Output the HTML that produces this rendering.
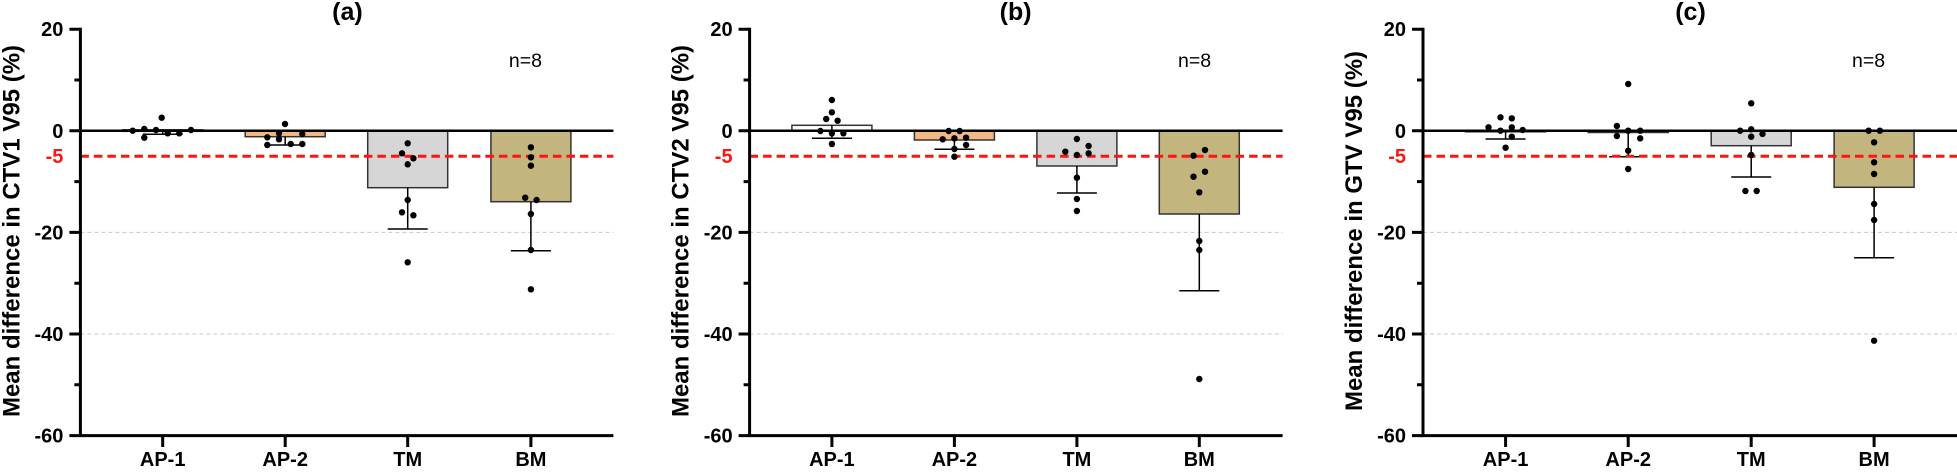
<!DOCTYPE html>
<html><head><meta charset="utf-8"><style>
html,body{margin:0;padding:0;background:#fff;}
svg{display:block;}
text{font-family:"Liberation Sans",Arial,sans-serif;}
.tl{font-size:20px;font-weight:bold;text-anchor:end;fill:#000;}
.xl{font-size:20px;font-weight:bold;text-anchor:middle;fill:#000;}
.tt{font-size:25px;font-weight:bold;text-anchor:middle;fill:#000;}
.nn{font-size:19.5px;text-anchor:middle;fill:#000;}
.yl{font-size:24px;font-weight:bold;text-anchor:middle;fill:#000;}
.ax{stroke:#000;stroke-width:3;fill:none;}
.grid{stroke:#c8c8c8;stroke-width:1;stroke-dasharray:4 3;}
.red{stroke:#ff1414;stroke-width:3;stroke-dasharray:8.5 5;}
.bar{stroke:#333;stroke-width:1.5;}
.eb{stroke:#000;stroke-width:1.5;fill:none;}
</style></head><body>
<svg width="1957" height="472" viewBox="0 0 1957 472" xmlns="http://www.w3.org/2000/svg">

<!-- ================= PANEL A ================= -->
<g transform="translate(80.4,0)">
  <line class="grid" x1="0" y1="232.4" x2="533" y2="232.4"/>
  <line class="grid" x1="0" y1="334" x2="533" y2="334"/>
  <!-- bars -->
  <rect class="bar" x="42.3" y="129.8" width="80" height="1.5" fill="#fff"/>
  <rect class="bar" x="164.8" y="130.8" width="80" height="5.9" fill="#F4B884"/>
  <rect class="bar" x="287.3" y="130.8" width="80" height="56.9" fill="#D6D6D6"/>
  <rect class="bar" x="410.5" y="130.8" width="80" height="70.9" fill="#C2B57E"/>
  <!-- error bars -->
  <path class="eb" d="M82.3 130.8V134.3M62.3 134.3H102.3"/>
  <path class="eb" d="M204.8 136.7V145M184.8 145H224.8"/>
  <path class="eb" d="M327.3 187.7V229M307.3 229H347.3"/>
  <path class="eb" d="M450.5 201.7V250.7M430.5 250.7H470.5"/>
  <line class="red" x1="0" y1="156.2" x2="533" y2="156.2"/>
  <line x1="0" y1="130.8" x2="533" y2="130.8" stroke="#000" stroke-width="2.5"/>
  <!-- dots -->
  <g fill="#000">
    <circle cx="52.3" cy="130.7" r="3.2"/><circle cx="63.9" cy="129" r="3.2"/><circle cx="63.9" cy="137.7" r="3.2"/><circle cx="75.6" cy="130" r="3.2"/>
    <circle cx="81.3" cy="117.7" r="3.2"/><circle cx="87.3" cy="133.3" r="3.2"/><circle cx="98.9" cy="133.3" r="3.2"/><circle cx="110.6" cy="130" r="3.2"/>
    <circle cx="204.6" cy="124" r="3.2"/><circle cx="198.6" cy="133.3" r="3.2"/><circle cx="221.9" cy="134" r="3.2"/><circle cx="186.9" cy="137.3" r="3.2"/>
    <circle cx="198.6" cy="139.3" r="3.2"/><circle cx="186.9" cy="145" r="3.2"/><circle cx="210.3" cy="144" r="3.2"/><circle cx="221.9" cy="144" r="3.2"/>
    <circle cx="327.3" cy="143.3" r="3.2"/><circle cx="321.6" cy="153.3" r="3.2"/><circle cx="333" cy="158.3" r="3.2"/><circle cx="327.3" cy="164.3" r="3.2"/>
    <circle cx="327.3" cy="200" r="3.2"/><circle cx="321.6" cy="212.3" r="3.2"/><circle cx="333" cy="215.3" r="3.2"/><circle cx="327.3" cy="262.3" r="3.2"/>
    <circle cx="450.5" cy="147.3" r="3.2"/><circle cx="450.5" cy="157.3" r="3.2"/><circle cx="450.5" cy="165.7" r="3.2"/><circle cx="444.8" cy="197.7" r="3.2"/>
    <circle cx="456.2" cy="200" r="3.2"/><circle cx="450.5" cy="214" r="3.2"/><circle cx="450.5" cy="250" r="3.2"/><circle cx="450.5" cy="289.3" r="3.2"/>
  </g>
  <!-- axes -->
  <line class="ax" x1="0" y1="27.8" x2="0" y2="437"/>
  <line class="ax" x1="-1.5" y1="435.6" x2="533" y2="435.6"/>
  <path class="ax" d="M-11 29.2H0M-6 80H0M-11 130.8H0M-6 181.6H0M-11 232.4H0M-6 283.2H0M-11 334H0M-6 384.8H0M-11 435.6H0"/>
  <path class="ax" d="M82.3 435.6V447M204.8 435.6V447M327.3 435.6V447M450.5 435.6V447"/>
  <text class="tl" x="-17" y="36.2">20</text>
  <text class="tl" x="-17" y="137.8">0</text>
  <text class="tl" x="-17" y="163.2" fill="#ff1414" style="fill:#ff1414">-5</text>
  <text class="tl" x="-17" y="239.4">-20</text>
  <text class="tl" x="-17" y="341">-40</text>
  <text class="tl" x="-17" y="442.6">-60</text>
  <text class="xl" x="82.3" y="466">AP-1</text>
  <text class="xl" x="204.8" y="466">AP-2</text>
  <text class="xl" x="327.3" y="466">TM</text>
  <text class="xl" x="450.5" y="466">BM</text>
  <text class="tt" x="267" y="20">(a)</text>
  <text class="nn" x="445" y="67">n=8</text>
  <text class="yl" transform="translate(-61,231) rotate(-90)" x="0" y="0">Mean difference in CTV1 V95 (%)</text>
</g>

<!-- ================= PANEL B ================= -->
<g transform="translate(749.6,0)">
  <line class="grid" x1="0" y1="232.4" x2="533" y2="232.4"/>
  <line class="grid" x1="0" y1="334" x2="533" y2="334"/>
  <rect class="bar" x="42.3" y="125.3" width="80" height="5.5" fill="#fff"/>
  <rect class="bar" x="164.8" y="130.8" width="80" height="9.2" fill="#F4B884"/>
  <rect class="bar" x="287.3" y="130.8" width="80" height="35.2" fill="#D6D6D6"/>
  <rect class="bar" x="409.7" y="130.8" width="80" height="83.2" fill="#C2B57E"/>
  <path class="eb" d="M82.3 125.3V138.3M62.3 138.3H102.3"/>
  <path class="eb" d="M204.8 140V149.3M184.8 149.3H224.8"/>
  <path class="eb" d="M327.3 166V193M307.3 193H347.3"/>
  <path class="eb" d="M449.7 214V290.7M429.7 290.7H469.7"/>
  <line class="red" x1="0" y1="156.2" x2="533" y2="156.2"/>
  <line x1="0" y1="130.8" x2="533" y2="130.8" stroke="#000" stroke-width="2.5"/>
  <g fill="#000">
    <circle cx="82.3" cy="100" r="3.2"/><circle cx="82.3" cy="112.3" r="3.2"/><circle cx="76.6" cy="119" r="3.2"/><circle cx="88" cy="120.7" r="3.2"/>
    <circle cx="70.8" cy="131" r="3.2"/><circle cx="82.3" cy="133.3" r="3.2"/><circle cx="93.8" cy="133.3" r="3.2"/><circle cx="82.3" cy="144" r="3.2"/>
    <circle cx="199.1" cy="131" r="3.2"/><circle cx="210.1" cy="131" r="3.2"/><circle cx="193.1" cy="139.3" r="3.2"/><circle cx="204.8" cy="138.3" r="3.2"/>
    <circle cx="216.5" cy="137.7" r="3.2"/><circle cx="216.5" cy="145" r="3.2"/><circle cx="204.8" cy="149" r="3.2"/><circle cx="204.8" cy="156.7" r="3.2"/>
    <circle cx="327.3" cy="139" r="3.2"/><circle cx="315.7" cy="151.7" r="3.2"/><circle cx="327.3" cy="155" r="3.2"/><circle cx="339" cy="146" r="3.2"/>
    <circle cx="339" cy="153.3" r="3.2"/><circle cx="327.3" cy="177.7" r="3.2"/><circle cx="327.3" cy="199" r="3.2"/><circle cx="327.3" cy="211" r="3.2"/>
    <circle cx="455.4" cy="150" r="3.2"/><circle cx="443.9" cy="155.7" r="3.2"/><circle cx="455.4" cy="171.7" r="3.2"/><circle cx="443.9" cy="176.7" r="3.2"/>
    <circle cx="449.7" cy="192.3" r="3.2"/><circle cx="449.7" cy="241" r="3.2"/><circle cx="449.7" cy="250" r="3.2"/><circle cx="449.7" cy="379" r="3.2"/>
  </g>
  <line class="ax" x1="0" y1="27.8" x2="0" y2="437"/>
  <line class="ax" x1="-1.5" y1="435.6" x2="533" y2="435.6"/>
  <path class="ax" d="M-11 29.2H0M-6 80H0M-11 130.8H0M-6 181.6H0M-11 232.4H0M-6 283.2H0M-11 334H0M-6 384.8H0M-11 435.6H0"/>
  <path class="ax" d="M82.3 435.6V447M204.8 435.6V447M327.3 435.6V447M449.7 435.6V447"/>
  <text class="tl" x="-17" y="36.2">20</text>
  <text class="tl" x="-17" y="137.8">0</text>
  <text class="tl" x="-17" y="163.2" style="fill:#ff1414">-5</text>
  <text class="tl" x="-17" y="239.4">-20</text>
  <text class="tl" x="-17" y="341">-40</text>
  <text class="tl" x="-17" y="442.6">-60</text>
  <text class="xl" x="82.3" y="466">AP-1</text>
  <text class="xl" x="204.8" y="466">AP-2</text>
  <text class="xl" x="327.3" y="466">TM</text>
  <text class="xl" x="449.7" y="466">BM</text>
  <text class="tt" x="266" y="20">(b)</text>
  <text class="nn" x="445" y="67">n=8</text>
  <text class="yl" transform="translate(-61,231) rotate(-90)" x="0" y="0">Mean difference in CTV2 V95 (%)</text>
</g>

<!-- ================= PANEL C ================= -->
<g transform="translate(1423,0)">
  <line class="grid" x1="0" y1="232.4" x2="534" y2="232.4"/>
  <line class="grid" x1="0" y1="334" x2="534" y2="334"/>
  <rect class="bar" x="42.6" y="130.8" width="80" height="1" fill="#fff"/>
  <rect class="bar" x="165.2" y="130.8" width="80" height="1.7" fill="#F4B884"/>
  <rect class="bar" x="288.2" y="130.8" width="80" height="14.9" fill="#D6D6D6"/>
  <rect class="bar" x="411.1" y="130.8" width="80" height="56.5" fill="#C2B57E"/>
  <path class="eb" d="M82.6 131.8V139M62.6 139H102.6"/>
  <path class="eb" d="M205.2 132.5V156.7M186.2 156.7H224.2"/>
  <path class="eb" d="M328.2 145.7V177M308.2 177H348.2"/>
  <path class="eb" d="M451.1 187.3V257.7M431.1 257.7H471.1"/>
  <line class="red" x1="0" y1="156.2" x2="534" y2="156.2"/>
  <line x1="0" y1="130.8" x2="534" y2="130.8" stroke="#000" stroke-width="2.5"/>
  <g fill="#000">
    <circle cx="65.5" cy="127.3" r="3.2"/><circle cx="77.5" cy="117.3" r="3.2"/><circle cx="88.8" cy="118.3" r="3.2"/><circle cx="77.5" cy="130.7" r="3.2"/>
    <circle cx="88.8" cy="127.3" r="3.2"/><circle cx="99.7" cy="130" r="3.2"/><circle cx="88.8" cy="136.7" r="3.2"/><circle cx="82.6" cy="147.7" r="3.2"/>
    <circle cx="205.2" cy="84" r="3.2"/><circle cx="193.9" cy="126" r="3.2"/><circle cx="205.2" cy="130.7" r="3.2"/><circle cx="217.2" cy="130.7" r="3.2"/>
    <circle cx="193.9" cy="136" r="3.2"/><circle cx="217.2" cy="138.3" r="3.2"/><circle cx="205.2" cy="150.7" r="3.2"/><circle cx="205.2" cy="169" r="3.2"/>
    <circle cx="328.2" cy="103.3" r="3.2"/><circle cx="317.2" cy="130.7" r="3.2"/><circle cx="328.2" cy="129.3" r="3.2"/><circle cx="339.5" cy="134" r="3.2"/>
    <circle cx="328.2" cy="136.7" r="3.2"/><circle cx="328.2" cy="155" r="3.2"/><circle cx="322.4" cy="191" r="3.2"/><circle cx="333.7" cy="191" r="3.2"/>
    <circle cx="445.6" cy="130.7" r="3.2"/><circle cx="456.9" cy="130.7" r="3.2"/><circle cx="451.1" cy="142.3" r="3.2"/><circle cx="451.1" cy="162.3" r="3.2"/>
    <circle cx="451.1" cy="174" r="3.2"/><circle cx="451.1" cy="204" r="3.2"/><circle cx="451.1" cy="220" r="3.2"/><circle cx="451.1" cy="340.7" r="3.2"/>
  </g>
  <line class="ax" x1="0" y1="27.8" x2="0" y2="437"/>
  <line class="ax" x1="-1.5" y1="435.6" x2="534" y2="435.6"/>
  <path class="ax" d="M-11 29.2H0M-6 80H0M-11 130.8H0M-6 181.6H0M-11 232.4H0M-6 283.2H0M-11 334H0M-6 384.8H0M-11 435.6H0"/>
  <path class="ax" d="M82.6 435.6V447M205.2 435.6V447M328.2 435.6V447M451.1 435.6V447"/>
  <text class="tl" x="-17" y="36.2">20</text>
  <text class="tl" x="-17" y="137.8">0</text>
  <text class="tl" x="-17" y="163.2" style="fill:#ff1414">-5</text>
  <text class="tl" x="-17" y="239.4">-20</text>
  <text class="tl" x="-17" y="341">-40</text>
  <text class="tl" x="-17" y="442.6">-60</text>
  <text class="xl" x="82.6" y="466">AP-1</text>
  <text class="xl" x="205.2" y="466">AP-2</text>
  <text class="xl" x="328.2" y="466">TM</text>
  <text class="xl" x="451.1" y="466">BM</text>
  <text class="tt" x="267.5" y="20">(c)</text>
  <text class="nn" x="445.6" y="67">n=8</text>
  <text class="yl" transform="translate(-61,231) rotate(-90)" x="0" y="0">Mean difference in GTV V95 (%)</text>
</g>
</svg>
</body></html>
